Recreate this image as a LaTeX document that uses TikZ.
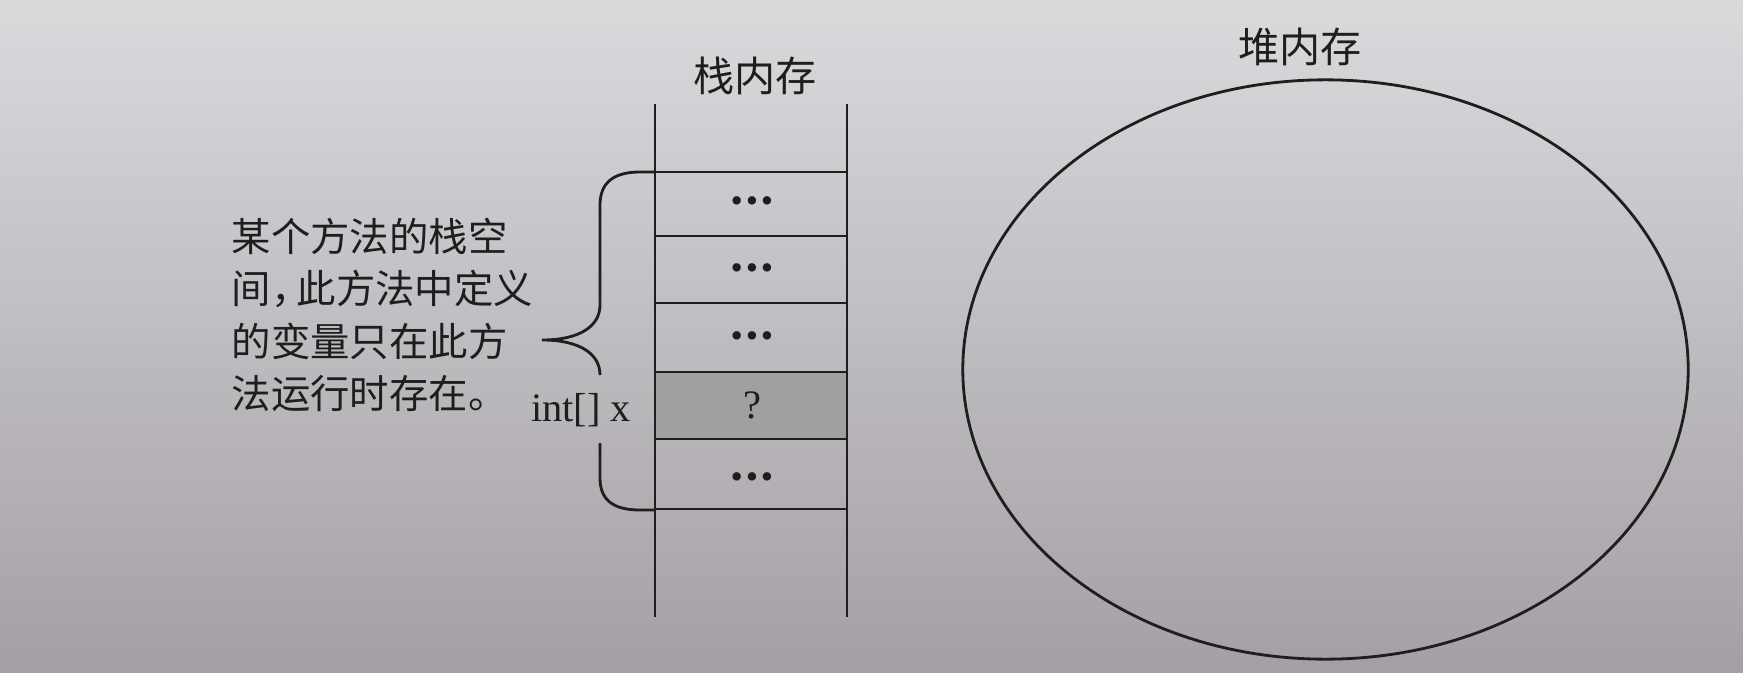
\documentclass[tikz,border=0pt]{standalone}
\usepackage{fontspec}
\setmainfont{Liberation Serif}
\newfontfamily\cjk{Noto Sans CJK SC}
\usepackage{xcolor}

\definecolor{papertop}{RGB}{218,218,221}
\definecolor{papermid}{RGB}{196,194,197}
\definecolor{paperbot}{RGB}{164,159,164}
\definecolor{slotgray}{RGB}{160,160,162}
\definecolor{ink}{RGB}{30,30,30}

\newcommand{\slotdots}{\fontsize{10}{10}\selectfont •\kern0.8pt•\kern0.8pt•}

\begin{document}
\begin{tikzpicture}[x=0.01cm,y=-0.01cm]

% Page
\shade[top color=papertop, middle color=papermid, bottom color=paperbot] (0,0) rectangle (1743,673); % photo background
\useasboundingbox (0,0) rectangle (1743,673);

\begin{scope}[draw=ink, text=ink]
% Stack memory
\fill[slotgray] (655,372) rectangle (847,439); % Shaded slot for x
\draw[thick] (655,104) -- (655,617); % Left wall of stack
\draw[thick] (847,104) -- (847,617); % Right wall of stack
\foreach \y in {172,236,303,372,439,509}
  \draw[thick] (655,\y) -- (847,\y); % Slot separators

% Slot contents
\node[inner sep=0pt] (s1) at (752,205) {\slotdots};
\node[inner sep=0pt] (s2) at (752,272) {\slotdots};
\node[inner sep=0pt] (s3) at (752,340) {\slotdots};
\node[inner sep=0pt, font=\fontsize{11.5}{12}\selectfont] (s4) at (752,405) {?};
\node[inner sep=0pt] (s5) at (752,481) {\slotdots};

% Brace for the frame of one method
\draw[thick] (655,172) -- (640,172) .. controls (612,172) and (600,184) .. (600,205)
  -- (600,305) .. controls (600,326) and (580,340) .. (542,340)
  .. controls (580,340) and (600,354) .. (600,375); % Upper half and tip
\draw[thick] (600,443) -- (600,478) .. controls (600,499) and (612,510) .. (640,510) -- (655,510); % Lower half

% Heap memory
\draw[thick] (1325.5,369.5) ellipse [x radius=3.625cm, y radius=2.895cm]; % Heap outline

% Labels
\node[font=\cjk\fontsize{11.7}{12}\selectfont] (stacklabel) at (755,76) {栈内存};
\node[font=\cjk\fontsize{11.7}{12}\selectfont] (heaplabel) at (1300,47) {堆内存};
\node[font=\fontsize{11.5}{12}\selectfont] (xlabel) at (581,410) {int[] x};
\node[font=\cjk\fontsize{11.2}{14.8}\selectfont, align=left, anchor=west, inner sep=0pt] (note) at (231,315)
  {某个方法的栈空\\间，\kern-0.35em 此方法中定义\\的变量只在此方\\法运行时存在。};
\end{scope}

\end{tikzpicture}
\end{document}
